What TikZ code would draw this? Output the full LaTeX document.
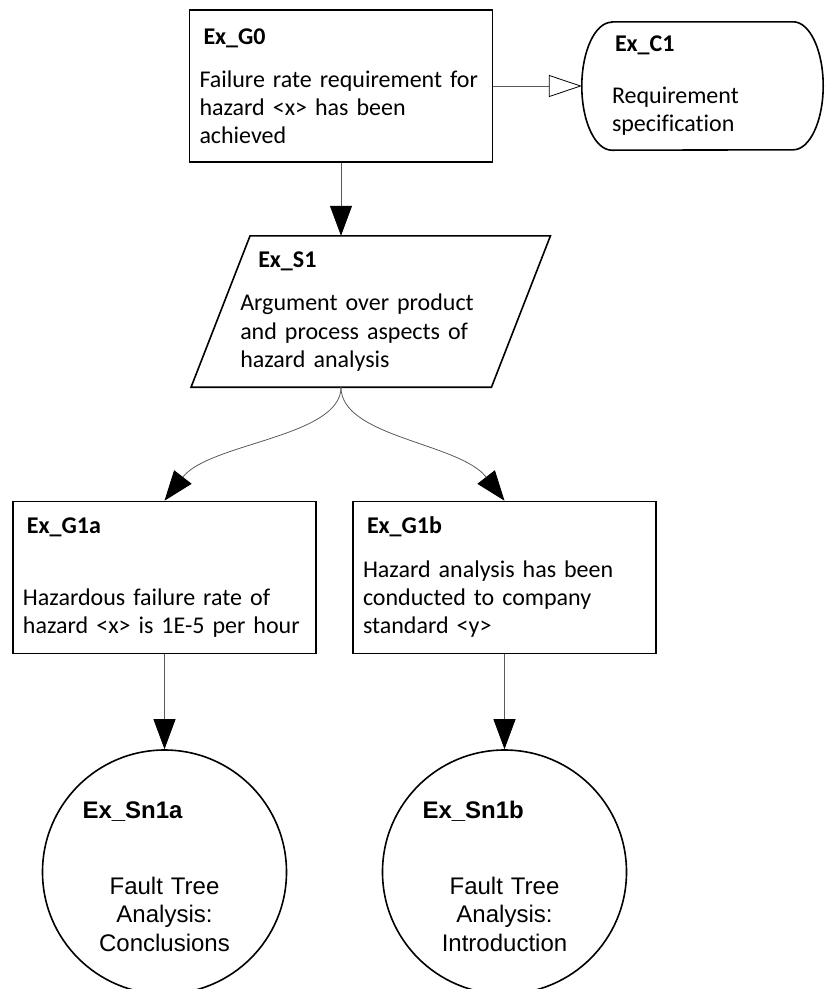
\documentclass[tikz,border=0pt]{standalone}
\usepackage{fontspec}
\setmainfont{Carlito}[Ligatures=NoCommon]
\newfontfamily\solfont{Liberation Sans}
\usetikzlibrary{arrows.meta}

\begin{document}
\begin{tikzpicture}
		[x=1pt,y=-1pt,
			border/.style={draw,line width=1.6pt,line join=miter},
			goal/.style={rectangle,border,minimum height=152pt,inner xsep=10pt,
				text width=283pt,align=left,font=\fontsize{24}{28}\selectfont},
			context/.style={rectangle,minimum width=241pt,minimum height=128pt,inner sep=0pt,
				text width=181pt,align=left,font=\fontsize{24}{28}\selectfont},
			strategy/.style={rectangle,minimum width=300pt,minimum height=151pt,inner sep=0pt,
				text width=261pt,align=left,font=\fontsize{24}{28.5}\selectfont},
			solution/.style={circle,border,minimum size=244pt,inner sep=0pt,
				text width=164pt,align=center,font=\solfont\fontsize{24}{28.5}\selectfont},
			supported/.style={draw=black!65,line width=0.8pt,-{Triangle[length=30pt,width=22pt,color=black]}},
			incontext/.style={draw=black!65,line width=0.8pt,-{Triangle[open,length=33pt,width=22pt,color=black,fill=white]}}]
	\useasboundingbox (0,0) rectangle (825,989);

	% top level goal and its context
	\node[goal] (G0) at (341,86)
		{\hspace*{4pt}\textbf{Ex\_G0}\\[15pt]Failure rate requirement for\\hazard <x> has been\\achieved};
	\node[context] (C1) at (702.5,86)
		{\hspace*{3pt}\textbf{Ex\_C1}\\[24pt]Requirement\\specification};
	\draw[border] ([xshift=30pt]C1.north west) -- ([xshift=-30pt]C1.north east)
		arc[start angle=90,end angle=-90,x radius=30pt,y radius=64pt]
		-- ([xshift=30pt]C1.south west)
		arc[start angle=270,end angle=90,x radius=30pt,y radius=64pt] -- cycle;

	% strategy, slanted sides drawn around the text box
	\node[strategy] (S1) at (370.75,311.5)
		{\hspace*{18pt}\textbf{Ex\_S1}\\[15pt]Argument over product\\and process aspects of\\hazard analysis};
	\draw[border] ([xshift=29.5pt]S1.north west) -- ([xshift=29.5pt]S1.north east)
		-- ([xshift=-29.5pt]S1.south east) -- ([xshift=-29.5pt]S1.south west) -- cycle;

	% sub-goals
	\node[goal] (G1a) at (164.5,577.5)
		{\hspace*{4pt}\textbf{Ex\_G1a}\\[44pt]Hazardous failure rate of\\hazard <x> is 1E-5 per hour};
	\node[goal] (G1b) at (504.5,577.5)
		{\hspace*{4pt}\textbf{Ex\_G1b}\\[16pt]Hazard analysis has been\\conducted to company\\standard <y>};

	% solutions
	\node[solution] (Sn1a) at (164.5,872)
		{\mbox{}\\[-2pt]\makebox[164pt][l]{\textbf{Ex\_Sn1a}}\\[47pt]Fault Tree\\Analysis:\\Conclusions};
	\node[solution] (Sn1b) at (504.5,872)
		{\mbox{}\\[-2pt]\makebox[164pt][l]{\textbf{Ex\_Sn1b}}\\[47pt]Fault Tree\\Analysis:\\Introduction};

	\draw[incontext] (G0.east) -- (C1.west);
	\draw[supported] (G0.south) -- (G0.south |- S1.north);
	\draw[supported] (S1.south -| G0.south) .. controls +(0,50) and +(45,-58) .. (G1a.north);
	\draw[supported] (S1.south -| G0.south) .. controls +(0,50) and +(-45,-58) .. (G1b.north);
	\draw[supported] (G1a.south) -- (Sn1a.north);
	\draw[supported] (G1b.south) -- (Sn1b.north);
\end{tikzpicture}
\end{document}
